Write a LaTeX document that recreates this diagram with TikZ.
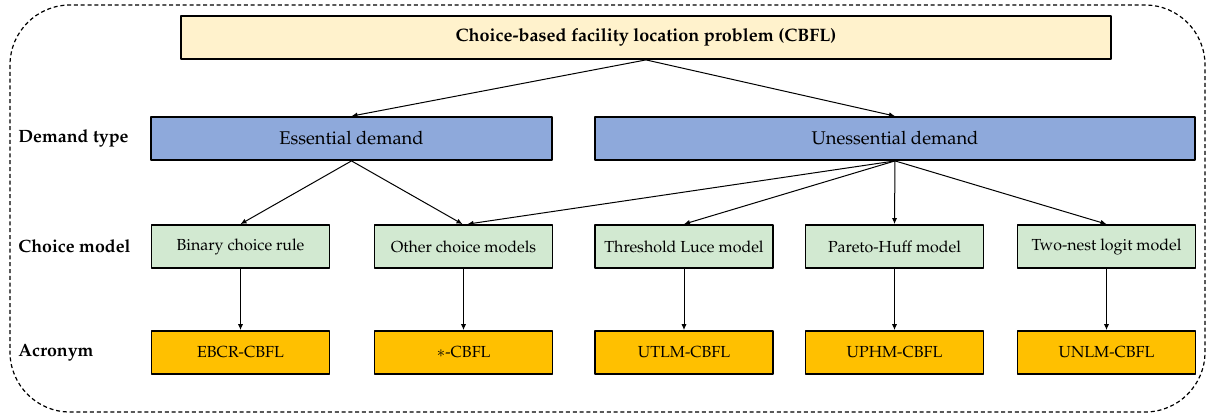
\documentclass[tikz,border=0pt]{standalone}
\usepackage[T1]{fontenc}
\usepackage{mathpazo}
\usepackage{xcolor}
\usetikzlibrary{arrows.meta}

\definecolor{cbflyellow}{HTML}{FFF2CC}
\definecolor{demandblue}{HTML}{8EA9DB}
\definecolor{choicegreen}{HTML}{D2E9D1}
\definecolor{acrgold}{HTML}{FFC000}

\tikzset{
  box/.style={draw, line width=0.9pt, inner sep=0pt, minimum height=21.5pt},
  titlebox/.style={box, fill=cbflyellow, minimum width=465pt, font=\fontsize{9}{11}\selectfont\bfseries},
  demandbox/.style={box, fill=demandblue, font=\fontsize{9.2}{11}\selectfont},
  choicebox/.style={box, fill=choicegreen, minimum width=89pt, font=\fontsize{8}{10}\selectfont},
  acrbox/.style={box, fill=acrgold, minimum width=89pt, font=\fontsize{8}{10}\selectfont},
  rowlabel/.style={anchor=west, inner sep=0pt, font=\fontsize{8.9}{10}\selectfont\bfseries},
  link/.style={line width=0.5pt, -{Latex[length=3pt, width=2.6pt]}}
}

\begin{document}
\begin{tikzpicture}[x=0.5pt, y=-0.5pt, line join=round]
    \useasboundingbox (0,0) rectangle (1207,414);

    % dashed frame round everything
    \draw[line width=0.6pt, dash pattern=on 2pt off 1.4pt, rounded corners=30pt] (10,5) rectangle (1205,412);

    % root
    \node[titlebox] (cbfl) at (646,37.5) {Choice-based facility location problem (CBFL)};

    % demand type
    \node[rowlabel] (lbldemand) at (18,138) {Demand type};
    \node[demandbox, minimum width=200.5pt] (ess) at (351.5,138.5) {Essential demand};
    \node[demandbox, minimum width=300pt] (uness) at (895,138.5) {Unessential demand};

    % choice models
    \node[rowlabel] (lblchoice) at (18,246.5) {Choice model};
    \node[choicebox] (bcr)  at (240.5,246.5)  {Binary choice rule};
    \node[choicebox] (oth)  at (463.5,246.5)  {Other choice models};
    \node[choicebox] (tlm)  at (684,246.5)    {Threshold Luce model};
    \node[choicebox] (phm)  at (894.5,246.5)  {Pareto-Huff model};
    \node[choicebox] (nlm)  at (1106.5,246.5) {Two-nest logit model};

    % acronyms
    \node[rowlabel] (lblacr) at (18,352.5) {Acronym};
    \node[acrbox] (ebcr) at (240.5,352.5)  {EBCR-CBFL};
    \node[acrbox] (star) at (463.5,352.5)  {$\ast$-CBFL};
    \node[acrbox] (utlm) at (684,352.5)    {UTLM-CBFL};
    \node[acrbox] (uphm) at (894.5,352.5)  {UPHM-CBFL};
    \node[acrbox] (unlm) at (1106.5,352.5) {UNLM-CBFL};

    % root -> demand
    \draw[link] (cbfl.south) -- (ess.north);
    \draw[link] (cbfl.south) -- (uness.north);

    % demand -> choice
    \draw[link] (ess.south) -- ([xshift=-0.5pt]oth.north);
    \draw[link] (ess.south) -- (bcr.north);
    \draw[link] (uness.south) -- ([xshift=2pt]oth.north);
    \draw[link] (uness.south) -- (tlm.north);
    \draw[link] (uness.south) -- (phm.north);
    \draw[link] (uness.south) -- (nlm.north);

    % choice -> acronym
    \foreach \c/\a in {bcr/ebcr, oth/star, tlm/utlm, phm/uphm, nlm/unlm}
        \draw[link] (\c.south) -- (\a.north);
\end{tikzpicture}
\end{document}
